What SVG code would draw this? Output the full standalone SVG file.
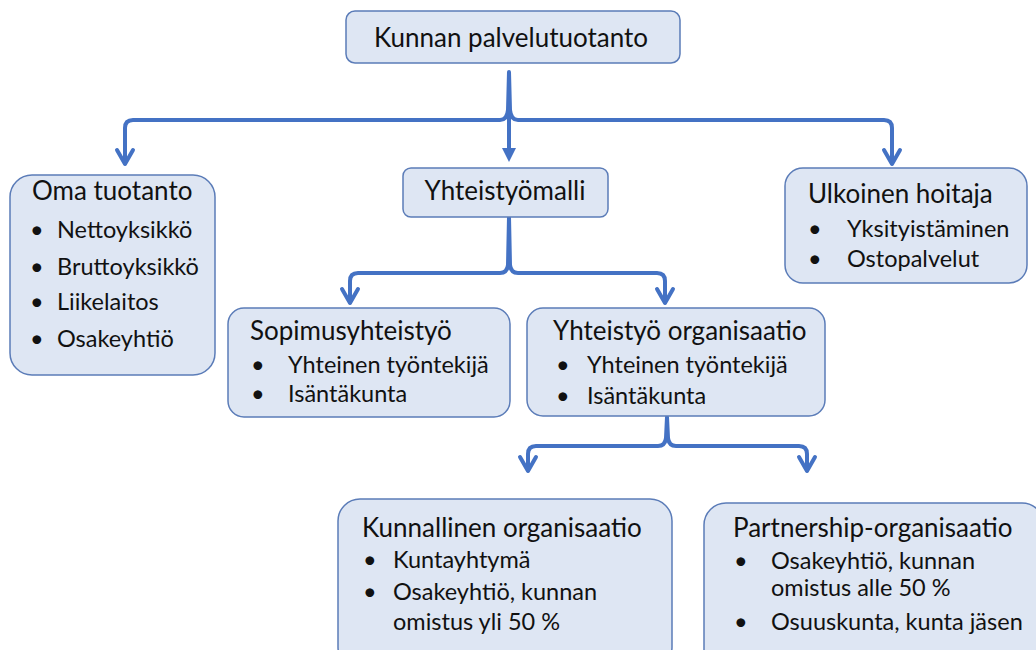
<svg xmlns="http://www.w3.org/2000/svg" width="1036" height="650" viewBox="0 0 1036 650">
<style>
.box{fill:#dee6f3;stroke:#5b7cb8;stroke-width:1.5}
.t{font-family:Lato,"Open Sans",sans-serif;fill:#111;font-size:23.5px}
.h{font-size:26px}
.c{fill:none;stroke:#4472c4;stroke-width:4;stroke-linejoin:round;stroke-linecap:round}
.a{fill:none;stroke:#4472c4;stroke-width:4;stroke-linecap:round;stroke-linejoin:round}
</style>
<rect width="1036" height="650" fill="#fff"/>
<g id="connectors">
<path class="c" d="M125,163 V128 Q125,120 133,120 H500 Q507,120 508,110 L509,72 L510,110 Q511,120 518,120 H884 Q892,120 892,128 V163"/>
<path class="c" d="M509,80 V150"/>
<polygon points="502,148 516,148 509,162" fill="#4472c4"/>
<path class="a" d="M117,150 L125,164 L133,150"/>
<path class="a" d="M884,150 L892,164 L900,150"/>
<path class="c" d="M350,302 V281 Q350,273 358,273 H500 Q507,273 508,265 L509,217 L510,265 Q511,273 518,273 H657 Q665,273 665,281 V302"/>
<path class="a" d="M342,289 L350,303 L358,289"/>
<path class="a" d="M657,289 L665,303 L673,289"/>
<path class="c" d="M528,470 V454 Q528,446 536,446 H658 Q665,446 666,438 L667,417 L668,438 Q669,446 676,446 H799 Q807,446 807,454 V470"/>
<path class="a" d="M520,457 L528,471 L536,457"/>
<path class="a" d="M799,457 L807,471 L815,457"/>
</g>
<g id="n-top">
<rect class="box" x="346" y="11" width="334" height="52" rx="9"/>
<text class="t h" x="511" y="47" text-anchor="middle">Kunnan palvelutuotanto</text>
</g>
<g id="n-oma">
<rect class="box" x="10" y="175" width="205" height="200" rx="22"/>
<text class="t h" x="32" y="200">Oma tuotanto</text>
<text class="t" x="30" y="238">•</text><text class="t" x="57" y="238">Nettoyksikkö</text>
<text class="t" x="30" y="275">•</text><text class="t" x="57" y="275">Bruttoyksikkö</text>
<text class="t" x="30" y="310">•</text><text class="t" x="57" y="310">Liikelaitos</text>
<text class="t" x="30" y="347">•</text><text class="t" x="57" y="347">Osakeyhtiö</text>
</g>
<g id="n-yhteistyomalli">
<rect class="box" x="403" y="168" width="205" height="49" rx="8"/>
<text class="t h" x="505" y="200" text-anchor="middle">Yhteistyömalli</text>
</g>
<g id="n-ulkoinen">
<rect class="box" x="785" y="168" width="242" height="115" rx="18"/>
<text class="t h" x="808" y="203">Ulkoinen hoitaja</text>
<text class="t" x="808" y="237">•</text><text class="t" x="847" y="237">Yksityistäminen</text>
<text class="t" x="808" y="267">•</text><text class="t" x="847" y="267">Ostopalvelut</text>
</g>
<g id="n-sopimus">
<rect class="box" x="228" y="308" width="282" height="109" rx="16"/>
<text class="t h" x="250" y="340">Sopimusyhteistyö</text>
<text class="t" x="251" y="373">•</text><text class="t" x="288" y="373">Yhteinen työntekijä</text>
<text class="t" x="251" y="402">•</text><text class="t" x="288" y="402">Isäntäkunta</text>
</g>
<g id="n-yhtorg">
<rect class="box" x="527" y="308" width="298" height="108" rx="16"/>
<text class="t h" x="553" y="340">Yhteistyö organisaatio</text>
<text class="t" x="556" y="373">•</text><text class="t" x="587" y="373">Yhteinen työntekijä</text>
<text class="t" x="556" y="404">•</text><text class="t" x="587" y="404">Isäntäkunta</text>
</g>
<g id="n-kunnallinen">
<rect class="box" x="338" y="499" width="334" height="170" rx="22"/>
<text class="t h" x="362" y="537">Kunnallinen organisaatio</text>
<text class="t" x="363" y="568">•</text><text class="t" x="393" y="568">Kuntayhtymä</text>
<text class="t" x="363" y="600">•</text><text class="t" x="393" y="600">Osakeyhtiö, kunnan</text>
<text class="t" x="393" y="630">omistus yli 50 %</text>
</g>
<g id="n-partnership">
<rect class="box" x="704" y="503" width="340" height="170" rx="22"/>
<text class="t h" x="733" y="537">Partnership-organisaatio</text>
<text class="t" x="734" y="569">•</text><text class="t" x="771" y="569">Osakeyhtiö, kunnan</text>
<text class="t" x="771" y="596">omistus alle 50 %</text>
<text class="t" x="734" y="630">•</text><text class="t" x="771" y="630">Osuuskunta, kunta jäsen</text>
</g>
</svg>
